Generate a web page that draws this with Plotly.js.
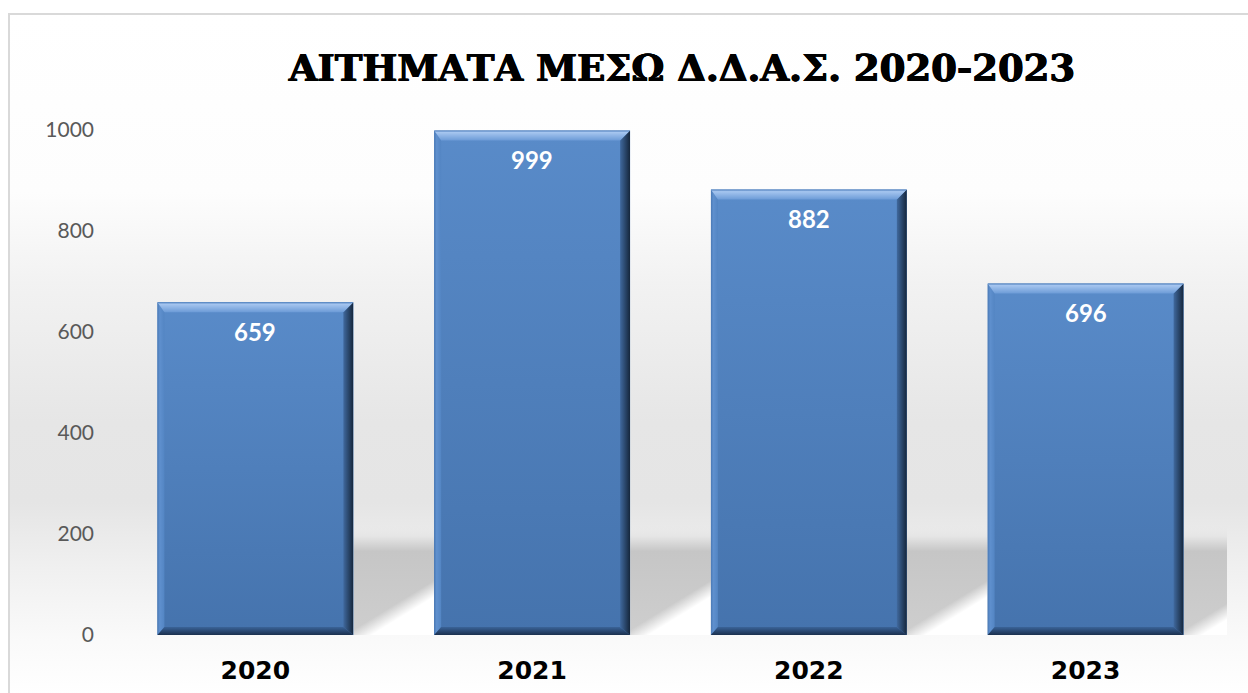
<!DOCTYPE html>
<html>
<head>
<meta charset="utf-8">
<script src="https://cdn.plot.ly/plotly-3.0.1.min.js"></script>
<style>
  html, body { margin: 0; padding: 0; width: 1248px; height: 693px; overflow: hidden; background: #ffffff; }
  #bg {
    position: absolute; left: 8px; top: 13px; width: 1260px; height: 700px;
    border-left: 2px solid #d9d9d9; border-top: 2px solid #d9d9d9;
    background: linear-gradient(to bottom, #ffffff 0px, #fdfdfd 177px, #f2f2f2 267px, #e6e6e6 407px, #e5e5e5 487px, #efefef 547px, #fafafa 627px, #ffffff 680px);
  }
  #chart { position: absolute; left: 0; top: 0; width: 1248px; height: 693px; }
</style>
</head>
<body>
<div id="bg"></div>
<div id="chart"></div>
<script>
// ---- data ----
const categories = ['2020', '2021', '2022', '2023'];
const values = [659, 999, 882, 696];
const yTickVals = [0, 200, 400, 600, 800, 1000];
const yTickText = ['0', '200', '400', '600', '800', '1000'];
const chartTitle = 'ΑΙΤΗΜΑΤΑ ΜΕΣΩ Δ.Δ.Α.Σ. 2020-2023';

// ---- layout constants ----
const W = 1248, H = 693;
const M = { l: 117, r: 24, t: 130, b: 58 };
const plotW = W - M.l - M.r;
const plotH = H - M.t - M.b;
const Y_MAX = 1000;
const BAR_W = 0.708;
const idx = categories.map((c, i) => i);
const catPx = plotW / categories.length;

function svgURI(svg) {
  return 'data:image/svg+xml;charset=utf-8,' + encodeURIComponent(svg);
}

// bevelled bar overlay, sized in pixels so the bevel stays constant
function bevelSVG(w, h) {
  const t = 10, r = 10, l = 7, b = 8;
  return `<svg xmlns="http://www.w3.org/2000/svg" width="${w}" height="${h}" viewBox="0 0 ${w} ${h}" preserveAspectRatio="none">
<defs>
<linearGradient id="f" x1="0" y1="0" x2="0" y2="1"><stop offset="0" stop-color="#598bc9"/><stop offset="1" stop-color="#4573ad"/></linearGradient>
<linearGradient id="t" x1="0" y1="0" x2="0" y2="1"><stop offset="0" stop-color="#4f7fbd"/><stop offset="0.2" stop-color="#a5c5ef"/><stop offset="1" stop-color="#6c9bd7"/></linearGradient>
<linearGradient id="r" x1="0" y1="0" x2="1" y2="0"><stop offset="0" stop-color="#40699e"/><stop offset="1" stop-color="#15263b"/></linearGradient>
<linearGradient id="l" x1="0" y1="0" x2="1" y2="0"><stop offset="0" stop-color="#4a79b5"/><stop offset="0.35" stop-color="#5f90ce"/><stop offset="1" stop-color="#5385c3"/></linearGradient>
<linearGradient id="b" x1="0" y1="0" x2="0" y2="1"><stop offset="0" stop-color="#3a6398"/><stop offset="1" stop-color="#1b304e"/></linearGradient>
</defs>
<rect x="0" y="0" width="${w}" height="${h}" fill="url(#f)"/>
<polygon points="0,0 ${l},${t} ${l},${h - b} 0,${h}" fill="url(#l)"/>
<polygon points="0,${h} ${l},${h - b} ${w - r},${h - b} ${w},${h}" fill="url(#b)"/>
<polygon points="${w},0 ${w},${h} ${w - r},${h - b} ${w - r},${t}" fill="url(#r)"/>
<polygon points="0,0 ${w},0 ${w - r},${t} ${l},${t}" fill="url(#t)"/>
</svg>`;
}

// floor shadow band behind the bars
function shadowSVG() {
  const bandH = 110, extra = 3, w = plotW + extra;
  const halfBar = BAR_W * catPx / 2;
  let defs = '', parts = '';
  idx.forEach(i => {
    const x0 = i * catPx + catPx / 2 + halfBar;
    const x1 = Math.min(x0 + (catPx - 2 * halfBar), w);
    const len = x1 - x0 - 5;
    const px = x0 + 5, py = bandH;
    const qx = x1, qy = bandH - 46 * len / 75;
    const dx = qx - px, dy = qy - py;
    const dl = Math.hypot(dx, dy);
    const nx = -dy / dl, ny = dx / dl; // normal; make it point down-right
    const sx = nx >= 0 ? 1 : -1;
    const mx = (px + qx) / 2, my = (py + qy) / 2;
    const s = 7;
    defs += `<linearGradient id="d${i}" gradientUnits="userSpaceOnUse" x1="${mx - sx * nx * s}" y1="${my - sx * ny * s}" x2="${mx + sx * nx * s}" y2="${my + sx * ny * s}"><stop offset="0" stop-color="#ffffff" stop-opacity="0"/><stop offset="1" stop-color="#ffffff" stop-opacity="1"/></linearGradient>`;
    parts += `<rect x="${x0}" y="0" width="${x1 - x0}" height="${bandH}" fill="url(#g)"/>`;
    parts += `<rect x="${x0}" y="0" width="${x1 - x0}" height="${bandH}" fill="url(#d${i})"/>`;
  });
  return `<svg xmlns="http://www.w3.org/2000/svg" width="${w}" height="${bandH}" viewBox="0 0 ${w} ${bandH}" preserveAspectRatio="none">
<defs>
<linearGradient id="g" x1="0" y1="0" x2="0" y2="1"><stop offset="0" stop-color="#e8e8e8" stop-opacity="0"/><stop offset="0.1" stop-color="#e6e6e6"/><stop offset="0.24" stop-color="#c6c6c6"/><stop offset="1" stop-color="#cecece"/></linearGradient>
${defs}
</defs>
${parts}
</svg>`;
}

const images = [];
const bandH = 110;
images.push({
  source: svgURI(shadowSVG()),
  xref: 'paper', yref: 'paper',
  x: 0, y: bandH / plotH, sizex: (plotW + 3) / plotW, sizey: bandH / plotH,
  xanchor: 'left', yanchor: 'top', sizing: 'stretch', layer: 'below'
});
values.forEach((v, i) => {
  const wpx = BAR_W * catPx;
  const hpx = v / Y_MAX * plotH;
  images.push({
    source: svgURI(bevelSVG(wpx, hpx)),
    xref: 'x', yref: 'y',
    x: i - BAR_W / 2, y: v, sizex: BAR_W, sizey: v,
    xanchor: 'left', yanchor: 'top', sizing: 'stretch', layer: 'above'
  });
});

const annotations = values.map((v, i) => ({
  x: i, y: v, xref: 'x', yref: 'y',
  text: String(v), showarrow: false,
  yanchor: 'middle', yshift: -29,
  font: { family: 'Lato, "Open Sans", sans-serif', size: 24, color: '#ffffff', weight: 'bold' }
}));

const trace = {
  type: 'bar',
  x: idx,
  y: values,
  width: BAR_W,
  marker: { color: '#4f80bd', line: { width: 0 } },
  hoverinfo: 'skip'
};

const layout = {
  width: W, height: H,
  margin: M,
  paper_bgcolor: 'rgba(0,0,0,0)',
  plot_bgcolor: 'rgba(0,0,0,0)',
  showlegend: false,
  title: {
    text: chartTitle,
    font: { family: '"DejaVu Serif", serif', size: 37, color: '#000000', weight: 'bold',
            shadow: '0.6px 0 0 #000, -0.6px 0 0 #000, 0 0.5px 0 #000' },
    x: 682 / W, xref: 'container', xanchor: 'center',
    y: 1 - 68 / H, yref: 'container', yanchor: 'middle'
  },
  xaxis: {
    type: 'linear',
    range: [-0.5, categories.length - 0.5],
    tickvals: idx, ticktext: categories,
    showgrid: false, zeroline: false, showline: false,
    ticks: '', ticklabelstandoff: 18,
    tickfont: { family: '"DejaVu Sans", sans-serif', size: 25, color: '#000000', weight: 'bold' },
    fixedrange: true
  },
  yaxis: {
    range: [0, Y_MAX],
    tickvals: yTickVals, ticktext: yTickText,
    showgrid: false, zeroline: false, showline: false,
    ticks: '', ticklabelstandoff: 22,
    tickfont: { family: 'Lato, "Open Sans", sans-serif', size: 21, color: '#595959' },
    fixedrange: true
  },
  images: images,
  annotations: annotations
};

Plotly.newPlot('chart', [trace], layout, { displayModeBar: false, staticPlot: true });
</script>
</body>
</html>
